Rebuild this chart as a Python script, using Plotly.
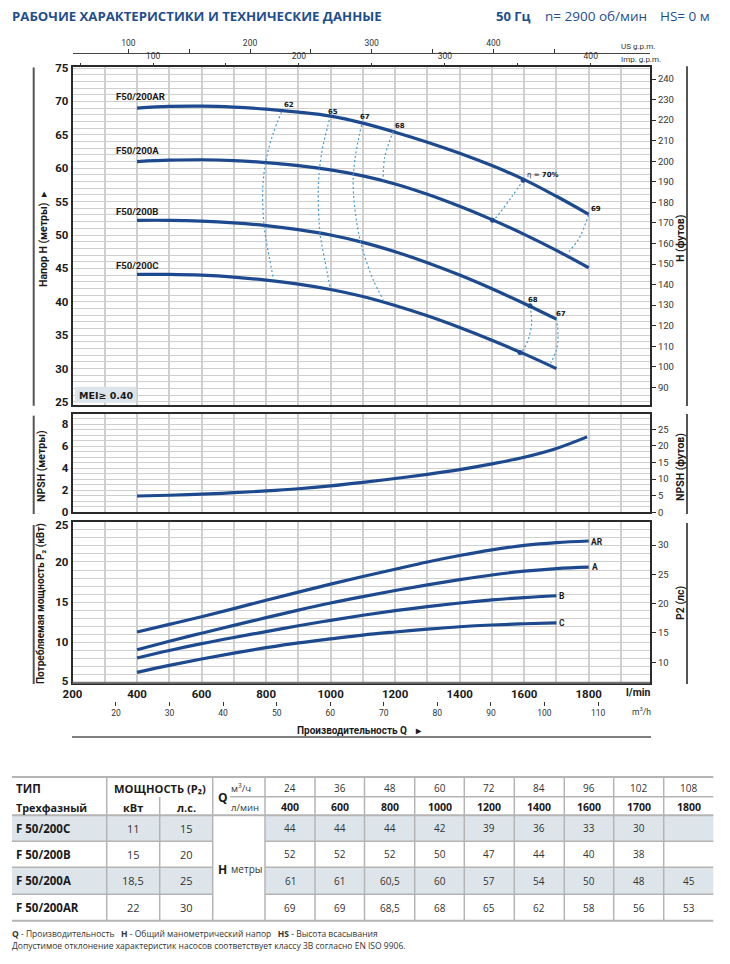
import plotly.graph_objects as go

W, H = 730, 964
Q = [400, 500, 600, 700, 800, 900, 1000, 1100, 1200, 1300, 1400, 1500, 1600, 1700, 1800]
H_AR = [69.0, 69.25, 69.3, 69.15, 68.85, 68.4, 67.8, 66.75, 65.4, 63.9, 62.25, 60.4, 58.3, 55.8, 53.1]
H_A = [61.0, 61.2, 61.27, 61.15, 60.85, 60.4, 59.75, 58.85, 57.65, 56.1, 54.3, 52.3, 50.1, 47.7, 45.1]
H_B = [52.2, 52.2, 52.08, 51.82, 51.4, 50.8, 50.0, 48.9, 47.5, 45.85, 44.0, 41.95, 39.75, 37.4]
H_C = [44.1, 44.1, 43.98, 43.7, 43.25, 42.65, 41.85, 40.8, 39.45, 37.9, 36.15, 34.25, 32.2, 30.0]
NPSH_Q = [400, 500, 600, 700, 800, 900, 1000, 1100, 1200, 1300, 1400, 1500, 1600, 1700, 1795]
NPSH = [1.48, 1.55, 1.65, 1.78, 1.94, 2.14, 2.4, 2.72, 3.07, 3.45, 3.88, 4.4, 5.0, 5.8, 6.85]
P_AR = [11.3, 12.25, 13.2, 14.2, 15.25, 16.25, 17.25, 18.2, 19.1, 20.0, 20.8, 21.5, 22.05, 22.4, 22.6]
P_A = [9.1, 10.15, 11.15, 12.12, 13.08, 14.02, 14.9, 15.7, 16.45, 17.15, 17.8, 18.38, 18.85, 19.18, 19.35]
P_B = [8.07, 9.0, 9.85, 10.62, 11.35, 12.08, 12.75, 13.38, 13.95, 14.45, 14.9, 15.28, 15.58, 15.8]
P_C = [6.29, 7.15, 7.95, 8.68, 9.35, 9.95, 10.45, 10.92, 11.3, 11.65, 11.95, 12.17, 12.32, 12.42]

EFF = {
    "62": ([848, 822, 802, 790, 794, 802, 822], [68.46, 65.2, 61.7, 57.2, 51.24, 48.76, 43.6]),
    "65": ([996, 972, 962, 967, 972, 998], [67.2, 62.2, 57.2, 50.25, 48.76, 42.25]),
    "67": ([1096, 1075, 1070, 1085, 1106, 1132, 1163], [66.5, 61.2, 57.2, 50.75, 46.75, 43.3, 40.3]),
    "68": ([1194, 1168, 1163], [65.5, 61.7, 58.2]),
    "70": ([1597, 1561, 1514, 1502], [58.2, 55.7, 52.7, 52.2]),
    "69": ([1800, 1778, 1767, 1739], [53.0, 50.25, 49.25, 47.5]),
    "68b": ([1618, 1623, 1612, 1597, 1587], [39.4, 36.8, 34.3, 32.8, 32.4]),
    "67b": ([1700, 1705, 1700, 1682], [37.5, 34.8, 32.8, 30.8]),
}
BEP_Q = [1597, 1502, 1618, 1587]
BEP_H = [58.2, 52.2, 39.4, 32.4]

TBL_M3H = ["24", "36", "48", "60", "72", "84", "96", "102", "108"]
TBL_LMIN = ["400", "600", "800", "1000", "1200", "1400", "1600", "1700", "1800"]
TBL_ROWS = ["F 50/200C", "F 50/200B", "F 50/200A", "F 50/200AR"]
TBL_KW = ["11", "15", "18,5", "22"]
TBL_HP = ["15", "20", "25", "30"]
TBL_H = [
    ["44", "44", "44", "42", "39", "36", "33", "30", ""],
    ["52", "52", "52", "50", "47", "44", "40", "38", ""],
    ["61", "61", "60,5", "60", "57", "54", "50", "48", "45"],
    ["69", "69", "68,5", "68", "65", "62", "58", "56", "53"],
]

NAVY = "#1d4a8e"
TITLE = "#1f4e8f"
GRID = "#cfcfcf"
FRAME = "#2a2a2a"
NARROW = "Roboto"
BODY = "Open Sans"
TXT = "#1a1a1a"
SHADE = "#dde5ea"
RULE = "#b4b4b4"
PL, PR = 72.5, 650.0
XR = [200, 1990]
US_RANGE = [54.16, 528.6]
IMP_RANGE = [44.8, 440.6]
M3H_RANGE = [11.88, 119.7]


def px(v):
    return v / W


def py(v):
    return 1 - v / H


fig = go.Figure()


def curve(x, y, ax, ay, width=3.2, color=NAVY):
    fig.add_trace(go.Scatter(x=x, y=y, xaxis=ax, yaxis=ay, mode="lines", showlegend=False, hoverinfo="skip",
                             line=dict(color=color, width=width, shape="spline", smoothing=1.0)))


for series in (H_AR, H_A, H_B, H_C):
    curve(Q[:len(series)], series, "x", "y")
for ex, ey in EFF.values():
    fig.add_trace(go.Scatter(x=ex, y=ey, xaxis="x", yaxis="y", mode="lines", showlegend=False, hoverinfo="skip",
                             line=dict(color="#3f9bd6", width=1.2, dash="2px,2.5px", shape="spline")))
fig.add_trace(go.Scatter(x=BEP_Q, y=BEP_H, xaxis="x", yaxis="y", mode="markers", showlegend=False, hoverinfo="skip",
                         marker=dict(color=NAVY, size=5)))
curve(NPSH_Q, NPSH, "x2", "y2")
for series in (P_AR, P_A, P_B, P_C):
    curve(Q[:len(series)], series, "x3", "y3")
for xa, ya in (("x", "y4"), ("x2", "y5"), ("x3", "y6"), ("x4", "y"), ("x5", "y"), ("x6", "y3"), ("x7", "y7")):
    fig.add_trace(go.Scatter(x=[None], y=[None], xaxis=xa, yaxis=ya, showlegend=False, hoverinfo="skip"))

xdom = [px(PL), px(PR)]
frame = dict(showline=True, linecolor=FRAME, linewidth=1.5, mirror=True)
gridx = dict(showgrid=True, gridcolor=GRID, gridwidth=1.5, zeroline=False)


def xbase(**kw):
    return dict(domain=xdom, range=XR, tick0=0, dtick=100, showticklabels=False, ticks="", **gridx, **frame, **kw)


def yleft(dom, rng, vals, minor, text=None):
    d = dict(domain=dom, range=rng, tickvals=vals, ticks="", showgrid=False, zeroline=False,
             minor=dict(dtick=minor, tick0=0, showgrid=True, gridcolor=GRID, gridwidth=1.2, ticks=""),
             tickfont=dict(family=NARROW, size=11.5, color=TXT, weight="bold"), **frame)
    if text:
        d["ticktext"] = text
    return d


def yright(over, rng, vals, dom, anchor):
    return dict(domain=dom, overlaying=over, side="right", anchor=anchor, range=rng, tickvals=vals, ticks="outside",
                ticklen=5, tickcolor=FRAME, showgrid=False, zeroline=False,
                tickfont=dict(family=NARROW, size=9.5, color="#333"))


D1 = [py(405), py(66.7)]
D2 = [py(512.3), py(414.3)]
D3 = [py(682.7), py(521.7)]

x3 = xbase()
x3.update(dtick=200, tick0=200, showticklabels=True, tickfont=dict(family=NARROW, size=11.5, color=TXT, weight="bold"),
          minor=dict(dtick=100, tick0=200, showgrid=True, gridcolor=GRID, gridwidth=1.5, ticks=""))


def extra_axis(rng, ypos, side, over, vals, minor=None, line=False, size=8.5):
    d = dict(domain=xdom, range=rng, overlaying=over, side=side, anchor="free",
             position=py(ypos), tickvals=vals, ticks="outside", ticklen=4, tickcolor="#333", showgrid=False,
             zeroline=False, showline=line, linecolor="#444", linewidth=1.3,
             tickfont=dict(family=NARROW, size=size, color="#333"))
    if minor:
        d["minor"] = dict(tickvals=minor, ticks="outside", ticklen=4, tickcolor="#333", showgrid=False)
    return d


fig.update_layout(
    width=W, height=H, margin=dict(l=0, r=0, t=0, b=0, autoexpand=False), paper_bgcolor="white",
    plot_bgcolor="rgba(0,0,0,0)", showlegend=False, font=dict(family=NARROW, color=TXT),
    xaxis=dict(anchor="y", **xbase()), xaxis2=dict(anchor="y2", **xbase()), xaxis3=dict(anchor="y3", **x3),
    xaxis4=extra_axis(US_RANGE, 53.3, "top", "x", [100, 200, 300, 400], [150, 250, 350, 450], line=True),
    xaxis5=extra_axis(IMP_RANGE, 66.7, "top", "x", [100, 200, 300, 400], [50, 150, 250, 350]),
    xaxis6=extra_axis(M3H_RANGE, 700.7, "bottom", "x3", [20, 30, 40, 50, 60, 70, 80, 90, 100, 110]),
    xaxis7=dict(domain=[0, 1], range=[0, W], visible=False, fixedrange=True, anchor="y7"),
    yaxis=dict(anchor="x", **yleft(D1, [24.55, 75.2], [25, 30, 35, 40, 45, 50, 55, 60, 65, 70, 75], 1)),
    yaxis2=dict(anchor="x2", **yleft(D2, [0, 8.9], [0, 2, 4, 6, 8], 0.5)),
    yaxis3=dict(anchor="x3", **yleft(D3, [5, 25], [5.2, 10, 15, 20, 24.6], 1, ["5", "10", "15", "20", "25"])),
    yaxis4=yright("y", [81.4, 246], list(range(90, 250, 10)), D1, "x"),
    yaxis5=yright("y2", [0, 29.5], [0, 5, 10, 15, 20, 25], D2, "x2"),
    yaxis6=yright("y3", [6.5, 34], [10, 15, 20, 25, 30], D3, "x3"),
    yaxis7=dict(domain=[0, 1], range=[H, 0], visible=False, fixedrange=True, anchor="x7"),
)


def note(text, x, y, size=11, family=NARROW, color=TXT, bold=False, anchor="left", angle=0):
    fig.add_annotation(text=f"<b>{text}</b>" if bold else text, x=x, y=y, xref="x7", yref="y7",
                       showarrow=False, xanchor=anchor, yanchor="middle", textangle=angle,
                       font=dict(family=family, size=size, color=color), borderpad=0, borderwidth=0)


def rule(x0, y0, x1, y1, color=RULE, width=1.5):
    fig.add_shape(type="line", xref="x7", yref="y7", x0=x0, y0=y0, x1=x1, y1=y1,
                  line=dict(color=color, width=width), layer="above")


def box(x0, y0, x1, y1, color, layer="below"):
    fig.add_shape(type="rect", xref="x7", yref="y7", x0=x0, y0=y0, x1=x1, y1=y1,
                  fillcolor=color, line_width=0, layer=layer)


# page heading
note("РАБОЧИЕ ХАРАКТЕРИСТИКИ И ТЕХНИЧЕСКИЕ ДАННЫЕ", 12, 16, 13.2, BODY, TITLE, True)
note("50 Гц", 496, 16, 13, BODY, TITLE, True)
note("n= 2900 об/мин", 545, 16, 13.5, BODY, TITLE)
note("HS= 0 м", 660, 16, 13.5, BODY, TITLE)

# chart side bars and bottom rules
for y0, y1 in ((67.6, 405.7), (415.7, 514), (525, 684)):
    rule(33.7, y0, 33.7, y1, "#555", 2)
for y0, y1 in ((66.3, 406), (414, 514), (523, 684)):
    rule(687, y0, 687, y1, "#555", 2)
rule(72, 737, 651, 737, "#555", 1.5)
rule(72.5, 682.7, 650, 682.7, "#777", 2)

note("US g.p.m.", 621, 46, 8, color="#333")
note("Imp. g.p.m.", 621, 59, 8, color="#333")
note("<b>l/min</b>", 651, 692, 10.5, anchor="right")
note("m<sup>3</sup>/h", 651, 711, 8.5, color="#333", anchor="right")
note("<b>Производительность Q</b>", 297, 730.5, 10)
note("<b>▸</b>", 415, 730.5, 10)

note("<b>Напор H (метры)</b>  ▸", 43, 239, 10.5, angle=-90, anchor="center")
note("<b>NPSH (метры)</b>", 41, 466, 10.5, angle=-90, anchor="center")
note("<b>Потребляемая мощность P₂ (кВт)</b>", 41, 604, 10, angle=-90, anchor="center")
note("<b>H (футов)</b>", 680, 238, 10.5, angle=-90, anchor="center")
note("<b>NPSH (футов)</b>", 680, 467, 10.5, angle=-90, anchor="center")
note("<b>P2 (лс)</b>", 680, 603, 10.5, angle=-90, anchor="center")

for name, yy in (("F50/200AR", 96), ("F50/200A", 150), ("F50/200B", 211), ("F50/200C", 265)):
    note(name, 115.5, yy, 9.6, bold=True)
for name, xx, yy in (("AR", 591, 542), ("A", 591.5, 567), ("B", 559, 596), ("C", 559, 623)):
    note(name, xx, yy, 8.5, bold=True)

box(75, 386.7, 136.3, 402.7, SHADE, "above")
note("MEI≥ 0.40", 79, 395, 9.5, "DejaVu Sans", TXT, True)

for txt, xx, yy in (("62", 289, 105.3), ("65", 333.3, 112), ("67", 365, 117.3), ("68", 400.3, 126.3),
                    ("69", 595.7, 209.3), ("68", 532.7, 300.3), ("67", 561, 314)):
    note(txt, xx, yy, 7, "DejaVu Sans", "#111", True, anchor="center")
note("η = <b>70%</b>", 527, 175, 7, "DejaVu Sans", "#111")

# table
COLS = [212.7, 265, 315, 364.5, 414.7, 464.3, 514.3, 564.3, 613.7, 663.7, 713.3]
ROWY = [815.3, 841.3, 867.3, 894.3, 920.7]
LEFT, TOP = 12, 777
for i in (0, 2):
    box(LEFT, ROWY[i], COLS[0], ROWY[i + 1], SHADE)
    box(COLS[1], ROWY[i], COLS[-1], ROWY[i + 1], SHADE)
rule(LEFT, TOP, COLS[-1], TOP, width=2)
rule(230, 796.7, COLS[-1], 796.7)
rule(LEFT, ROWY[0], COLS[-1], ROWY[0], width=2)
for y in ROWY[1:4]:
    rule(LEFT, y, COLS[0], y)
    rule(COLS[1], y, COLS[-1], y)
rule(LEFT, ROWY[4], COLS[-1], ROWY[4], width=2)
rule(106.7, TOP, 106.7, ROWY[4])
rule(159.7, 797, 159.7, ROWY[4])
for x in COLS[:-1]:
    rule(x, TOP, x, ROWY[4])

TF = 11.5
note("ТИП", 16, 788, TF, BODY, TXT, True)
note("Трехфазный", 16, 807, 10.8, BODY, TXT, True)
note("МОЩНОСТЬ (P₂)", 159.7, 788, 11.2, BODY, TXT, True, anchor="center")
note("кВт", 133, 807, 11, BODY, TXT, True, anchor="center")
note("л.с.", 186, 807, 11, BODY, TXT, True, anchor="center")
note("Q", 218, 797, 12, BODY, TXT, True)
note("м<sup>3</sup>/ч", 231, 788, 9.5, BODY, "#333")
note("л/мин", 231, 807, 9.5, BODY, "#333")
note("H", 218, 869, 12, BODY, TXT, True)
note("метры", 231, 869, 10, BODY, "#333")
for j, (a, b) in enumerate(zip(TBL_M3H, TBL_LMIN)):
    xc = (COLS[j + 1] + COLS[j + 2]) / 2
    note(a, xc, 788, 10, BODY, "#333", anchor="center")
    note(b, xc, 807, 10.5, BODY, TXT, True, anchor="center")
for i, name in enumerate(TBL_ROWS):
    yc = (ROWY[i] + ROWY[i + 1]) / 2
    note(name, 16, yc, TF, BODY, TXT, True)
    note(TBL_KW[i], 133, yc, 11, BODY, "#333", anchor="center")
    note(TBL_HP[i], 186, yc, 11, BODY, "#333", anchor="center")
    for j, v in enumerate(TBL_H[i]):
        if v:
            note(v, (COLS[j + 1] + COLS[j + 2]) / 2, yc, 10, BODY, "#333", anchor="center")

note("<b>Q</b> - Производительность   <b>H</b> - Общий манометрический напор   <b>HS</b> - Высота всасывания",
     12, 933, 8.5, BODY, "#333")
note("Допустимое отклонение характеристик насосов соответствует классу 3B согласно EN ISO 9906.",
     12, 945, 8.5, BODY, "#333")

fig.write_html("out.html", config={"displayModeBar": False}, post_script="document.body.style.margin='0';")
